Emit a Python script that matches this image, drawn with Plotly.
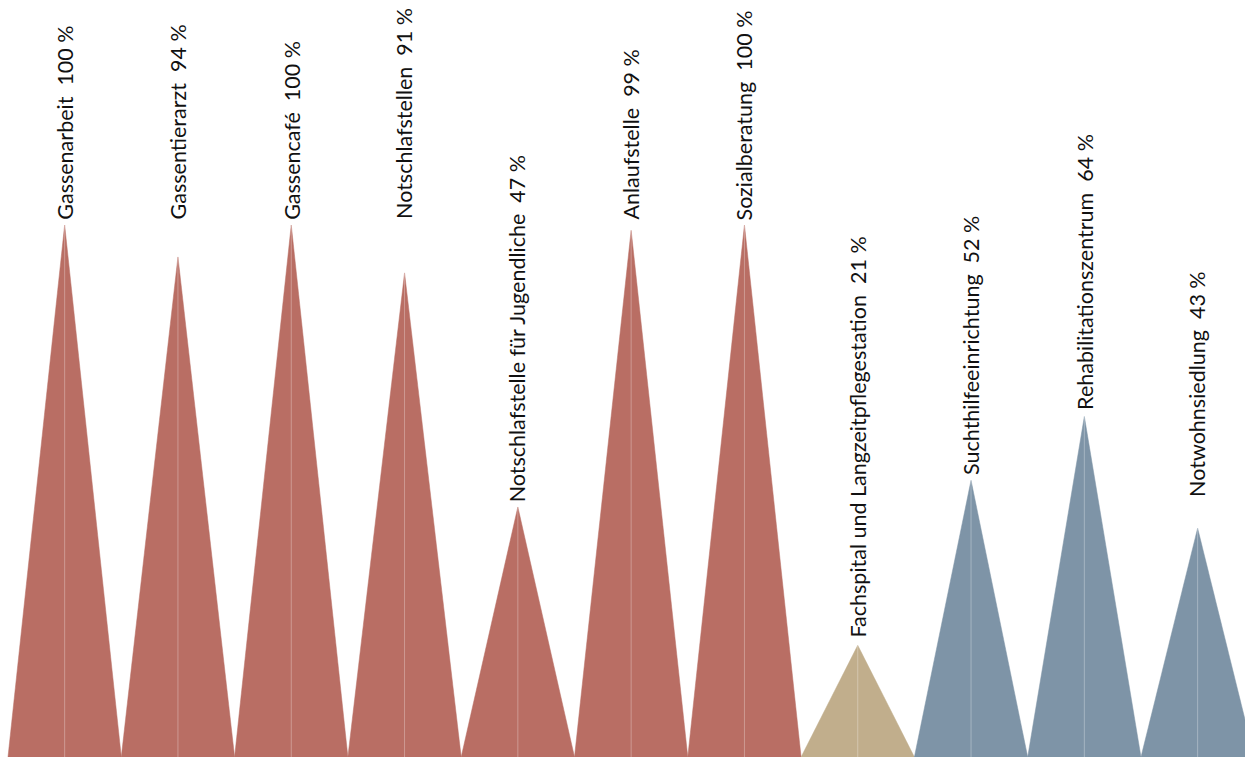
import plotly.graph_objects as go

categories = ["Gassenarbeit", "Gassentierarzt", "Gassencafé", "Notschlafstellen",
              "Notschlafstelle für Jugendliche", "Anlaufstelle", "Sozialberatung",
              "Fachspital und Langzeitpflegestation", "Suchthilfeeinrichtung",
              "Rehabilitationszentrum", "Notwohnsiedlung"]
values = [100, 94, 100, 91, 47, 99, 100, 21, 52, 64, 43]
groups = ["a", "a", "a", "a", "a", "a", "a", "b", "c", "c", "c"]
group_colors = {"a": "#B96E64", "b": "#C1AE8C", "c": "#7E94A7"}

# extra label gap (px) above a peak, layout tweak only
extra_gap = {"Gassentierarzt": 33, "Notschlafstellen": 49, "Anlaufstelle": 6,
             "Notwohnsiedlung": 26, "Fachspital und Langzeitpflegestation": 3,
             "Rehabilitationszentrum": 2}

fig = go.Figure()
for i, (name, v, g) in enumerate(zip(categories, values, groups)):
    col = group_colors[g]
    fig.add_trace(go.Scatter(
        x=[i, i + 0.5, i + 1, i], y=[0, v, 0, 0],
        mode="lines", fill="toself", fillcolor=col,
        line=dict(color=col, width=0.5), hoverinfo="skip", showlegend=False))
    fig.add_trace(go.Scatter(
        x=[i + 0.5, i + 0.5], y=[0, v], mode="lines",
        line=dict(color="rgba(255,255,255,0.3)", width=1),
        hoverinfo="skip", showlegend=False))
    fig.add_annotation(
        x=i + 0.5, y=v, text=f"{name}\u00a0 {v}\u00a0%", textangle=-90,
        showarrow=False, xanchor="center", yanchor="bottom",
        yshift=3 + extra_gap.get(name, 0),
        font=dict(family="Lato", size=21.5, color="#111111"))

fig.update_layout(
    width=1245, height=757,
    margin=dict(l=0, r=0, t=0, b=0),
    plot_bgcolor="white", paper_bgcolor="white",
    xaxis=dict(range=[-0.0706, 10.918], visible=False, fixedrange=True),
    yaxis=dict(range=[0, 142.3], visible=False, fixedrange=True),
)
fig.write_html("out.html")
